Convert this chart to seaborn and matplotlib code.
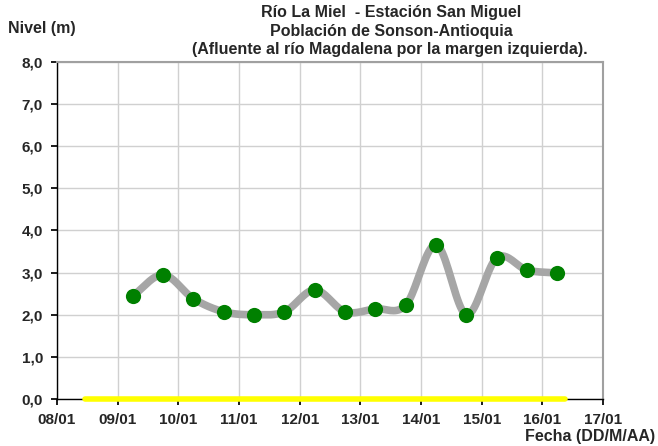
import numpy as np
import pandas as pd
import seaborn as sns
import matplotlib.pyplot as plt
import matplotlib.dates as mdates

# Readings every 12 h (09/01 06:00 .. 16/01 06:00)
fechas = pd.date_range("2010-01-09 06:00", periods=15, freq="12h")
niveles = [2.45, 2.95, 2.38, 2.07, 2.00, 2.07, 2.59, 2.07, 2.14, 2.23,
           3.66, 2.00, 3.35, 3.06, 2.99]
# reference (zero) line
ref_fechas = pd.to_datetime(["2010-01-08 11:00", "2010-01-16 09:00"])
ref_valores = [0.0, 0.0]

ticks = pd.date_range("2010-01-08", "2010-01-17", freq="D")
yticks = np.arange(0, 8.1, 1.0)

sns.set_theme(style="white")
plt.rcParams["font.family"] = ["Liberation Sans", "DejaVu Sans"]
plt.rcParams["font.weight"] = "bold"

df = pd.DataFrame({"Fecha": fechas, "Nivel": niveles})

# smooth curve (Catmull-Rom through the readings, like Excel's smoothed line)
t = mdates.date2num(df["Fecha"])
v = np.array(niveles)
tp = np.concatenate([[2 * t[0] - t[1]], t, [2 * t[-1] - t[-2]]])
vp = np.concatenate([[2 * v[0] - v[1]], v, [2 * v[-1] - v[-2]]])
xs, ys = [], []
u = np.linspace(0, 1, 20, endpoint=False)
for i in range(1, len(tp) - 2):
    for arr, out in ((tp, xs), (vp, ys)):
        p0, p1, p2, p3 = arr[i - 1], arr[i], arr[i + 1], arr[i + 2]
        out.extend(0.5 * (2 * p1 + (-p0 + p2) * u + (2 * p0 - 5 * p1 + 4 * p2 - p3) * u ** 2
                          + (-p0 + 3 * p1 - 3 * p2 + p3) * u ** 3))
xs.append(t[-1]); ys.append(v[-1])
smooth = pd.DataFrame({"Fecha": mdates.num2date(xs), "Nivel": ys})

fig = plt.figure(figsize=(6.58, 4.46), dpi=100)
ax = fig.add_axes([0.0866, 0.1054, 0.8298, 0.7556])

ax.set_xlim(ticks[0], ticks[-1])
ax.set_ylim(0, 8)
ax.set_xticks(ticks)
ax.set_yticks(yticks)
ax.grid(True, color="#d0d0d0", linewidth=1)
ax.set_axisbelow(True)

sns.lineplot(x=ref_fechas, y=ref_valores, ax=ax, color="#ffff00", linewidth=4,
             zorder=3, clip_on=False)
sns.lineplot(data=smooth, x="Fecha", y="Nivel", ax=ax, color="#a6a6a6",
             linewidth=5.5, zorder=4, sort=False)
sns.scatterplot(data=df, x="Fecha", y="Nivel", ax=ax, color="#008000",
                s=120, edgecolor="#008000", linewidth=0, zorder=5)

ax.set_xlabel("")
ax.set_ylabel("")
ax.set_xticks(ticks)
ax.set_xticklabels([d.strftime("%d/%m") for d in ticks], fontweight="bold", fontsize=11)
ax.set_yticks(yticks)
ax.set_yticklabels([f"{y:.1f}".replace(".", ",") for y in yticks], fontweight="bold",
                   fontsize=11)
ax.set_xlim(ticks[0], ticks[-1])
ax.set_ylim(0, 8)
ax.tick_params(axis="both", length=4, color="black", direction="out",
               left=True, bottom=True, pad=6)

for s in ("left", "bottom"):
    ax.spines[s].set_color("black")
    ax.spines[s].set_linewidth(1)
for s in ("top", "right"):
    ax.spines[s].set_color("#a0a0a0")
    ax.spines[s].set_linewidth(1.5)

fig.text(0.595, 0.971, "Río La Miel  - Estación San Miguel", ha="center", va="center",
         fontsize=11.5, fontweight="bold")
fig.text(0.595, 0.930, "Población de Sonson-Antioquia", ha="center", va="center",
         fontsize=11.5, fontweight="bold")
fig.text(0.593, 0.888, "(Afluente al río Magdalena por la margen izquierda).", ha="center",
         va="center", fontsize=11.5, fontweight="bold")
fig.text(0.012, 0.937, "Nivel (m)", ha="left", va="center", fontsize=11.5, fontweight="bold")
fig.text(0.995, 0.022, "Fecha (DD/M/AA)", ha="right", va="center", fontsize=11.5,
         fontweight="bold")

fig.savefig("out.png", dpi=100)
